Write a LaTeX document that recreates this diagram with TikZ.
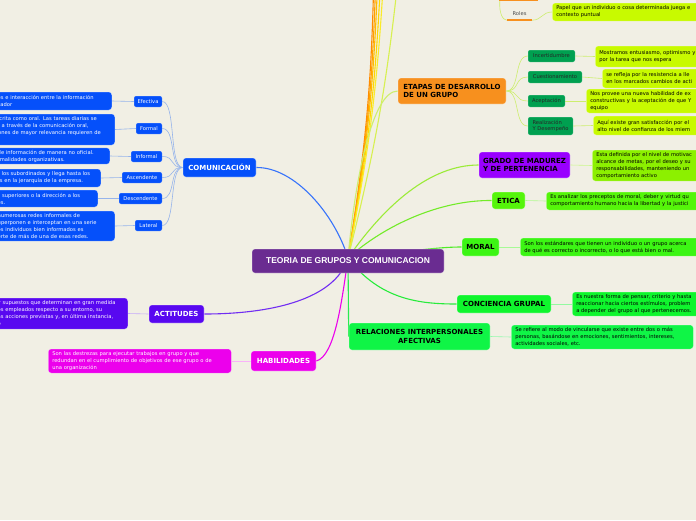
\documentclass[tikz,border=0pt]{standalone}
\usepackage{fontspec}
\setmainfont{DejaVu Sans}
\newfontfamily\arialfont{Liberation Sans}
\usepackage{tikz}
\usetikzlibrary{calc}
\definecolor{paper}{RGB}{241,239,228}
\definecolor{rootc}{RGB}{106,44,145}
\definecolor{comc}{RGB}{5,80,250}
\definecolor{comln}{RGB}{150,180,235}
\definecolor{actc}{RGB}{88,8,240}
\definecolor{habc}{RGB}{236,0,236}
\definecolor{etac}{RGB}{247,144,30}
\definecolor{etaln}{RGB}{205,238,110}
\definecolor{stagec}{RGB}{0,160,80}
\definecolor{limec}{RGB}{200,250,0}
\definecolor{gradc}{RGB}{153,0,255}
\definecolor{gradd}{RGB}{140,240,0}
\definecolor{etic}{RGB}{85,245,10}
\definecolor{morc}{RGB}{60,245,20}
\definecolor{conc}{RGB}{15,245,45}
\definecolor{relc}{RGB}{15,245,70}
\definecolor{graln}{RGB}{155,235,55}
\definecolor{etiln}{RGB}{115,235,40}
\definecolor{morln}{RGB}{80,235,40}
\definecolor{conln}{RGB}{40,235,60}
\definecolor{relln}{RGB}{40,235,80}
\pgfdeclarelayer{back}
\pgfdeclarelayer{bg}
\pgfsetlayers{back,bg,main}
\tikzset{
  topic/.style={rounded corners=3pt,draw=white,draw opacity=.35,line width=.6pt,
    font=\bfseries\fontsize{7}{8.6}\selectfont,inner sep=0pt,align=center},
  branch/.style={rounded corners=2pt,draw=white,draw opacity=.3,line width=.5pt,
    font=\fontsize{5.2}{6.2}\selectfont,inner sep=0pt,align=left},
  note/.style={rounded corners=3pt,draw=white,draw opacity=.35,line width=.5pt,
    font=\fontsize{5.2}{7}\selectfont,inner xsep=4pt,inner ysep=2pt,align=left},
  link/.style={line width=1.1pt},
  twig/.style={line width=.6pt},
}

\begin{document}
\begin{tikzpicture}[x=1pt,y=-1pt,font=\fontsize{5.2}{7}\selectfont]
\useasboundingbox (0,0) rectangle (696,520);
\clip (0,0) rectangle (696,520);
\begin{pgfonlayer}{back}
\fill[paper] (0,0) rectangle (696,520);
\end{pgfonlayer}

% centro
\node[topic,fill=rootc,text=white,font=\arialfont\bfseries\fontsize{8.5}{10}\selectfont,
  minimum width=192,minimum height=24] (root) at (348,261) {TEORIA DE GRUPOS Y COMUNICACION};
\coordinate (hub) at (348,258);

% comunicacion
\node[topic,fill=comc,text=white,minimum width=73,minimum height=19] (com) at (219.5,167.5) {COMUNICACIÓN};
\foreach \nm/\lbl/\x/\y/\w in {efe/Efectiva/148/101.5/28,frm/Formal/149/128.5/26,inf/Informal/146.5/156.5/31,
  asc/Ascendente/142/177.5/40,des/Descendente/140.5/198.5/43,lat/Lateral/148.5/225.5/27}
  \node[branch,fill=comc,text=white,minimum width=\w,minimum height=11,align=center] (\nm) at (\x,\y) {\lbl};
\node[note,fill=comc,text=white,anchor=east,text width=110,minimum height=18] (efe-n) at (112,101)
  {es e interacción entre la información\\zador};
\node[note,fill=comc,text=white,anchor=east,text width=114,minimum height=31] (frm-n) at (115,129.5)
  {scrita como oral. Las tareas diarias se\\e a través de la comunicación oral,\\iones de mayor relevancia requieren de\\\mbox{}};
\node[note,fill=comc,text=white,anchor=east,text width=108,minimum height=16] (inf-n) at (110,156)
  {de información de manera no oficial.\\rmalidades organizativas.};
\node[note,fill=comc,text=white,anchor=east,text width=100,minimum height=18] (asc-n) at (101,178)
  {o los subordinados y llega hasta los\\es en la jerarquía de la empresa.};
\node[note,fill=comc,text=white,anchor=east,text width=96,minimum height=17] (des-n) at (98,198.5)
  {s superiores o la dirección a los\\es.};
\node[note,fill=comc,text=white,anchor=east,text width=113,minimum height=30] (lat-n) at (115,226)
  { numerosas redes informales de\\uperponen e interceptan en una serie\\os individuos bien informados es\\erte de más de una de esas redes.};

% actitudes y habilidades
\node[topic,fill=actc,text=white,minimum width=55,minimum height=18] (act) at (176.5,314) {ACTITUDES};
\node[note,fill=actc,text=white,anchor=east,text width=126,minimum height=31] (act-n) at (128,313.5)
  {y supuestos que determinan en gran medida\\os empleados respecto a su entorno, su\\as acciones previstas y, en última instancia,\\o};
\node[topic,fill=habc,text=white,minimum width=65,minimum height=20] (hab) at (283.5,361) {HABILIDADES};
\node[note,fill=habc,text=white,anchor=west,text width=175,minimum height=24] (hab-n) at (48,361)
  {Son las destrezas para ejecutar trabajos en grupo y que\\redundan en el cumplimiento de objetivos de ese grupo o de\\una organización};

% etapas
\node[topic,fill=etac,text=black,align=left,minimum width=108,minimum height=26] (eta) at (452,91)
  {ETAPAS DE DESARROLLO\\DE UN GRUPO};
\foreach \nm/\lbl/\x/\y/\w/\h in {inc/Incertidumbre/551.5/56/47/12,cue/Cuestionamiento/555/77/54/12,
  ace/Aceptación/546.5/101/37/12,rea/{Realización\\Y Desempeño}/550.5/126/45/18}
  \node[branch,fill=stagec,text=black!85,minimum width=\w,minimum height=\h] (\nm) at (\x,\y) {\lbl};
\node[note,fill=limec,anchor=west,text width=150,minimum height=21] (inc-n) at (595,56.5)
  {Mostramos entusiasmo, optimismo y\\por la tarea que nos espera};
\node[note,fill=limec,anchor=west,text width=150,minimum height=19] (cue-n) at (602,78.5)
  {se refleja por la resistencia a lle\\en los marcados cambios de acti};
\node[note,fill=limec,anchor=west,text width=150,minimum height=24] (ace-n) at (586,101)
  {Nos provee una nueva habilidad de ex\\constructivas y la aceptación de que Y\\equipo};
\node[note,fill=limec,anchor=west,text width=150,minimum height=19] (rea-n) at (593,125.5)
  {Aquí existe gran satisfacción por el\\alto nivel de confianza de los miem};

% roles
\node[fill=etac,minimum width=39,minimum height=22,inner sep=0pt] (par) at (518.5,-10) {};
\node[inner sep=0pt,minimum width=25,minimum height=12,text=black!70] (rol) at (519.5,14) {Roles};
\draw[etac,line width=2pt] (rol.south west) -- (rol.south east);
\node[note,fill=limec,anchor=west,text width=160,minimum height=18] (rol-n) at (552,12)
  {Papel que un individuo o cosa determinada juega e\\contexto puntual};

% madurez, etica, moral
\node[topic,fill=gradc,text=black,align=left,minimum width=91,minimum height=26] (gra) at (524.5,165)
  {GRADO DE MADUREZ\\Y DE PERTENENCIA};
\node[note,fill=gradd,anchor=west,text width=150,minimum height=31] (gra-n) at (592,165.5)
  {Esta definida por el nivel de motivac\\alcance de metas, por el deseo y su\\responsabilidades, manteniendo un\\comportamiento activo};
\node[topic,fill=etic,text=black,minimum width=33,minimum height=17] (eti) at (508.5,200.5) {ETICA};
\node[note,fill=etic,anchor=west,text width=170,minimum height=18] (eti-n) at (546,201)
  {Es analizar los preceptos de moral, deber y virtud qu\\comportamiento humano hacia la libertad y la justici};
\node[topic,fill=morc,text=black,minimum width=37,minimum height=18] (mor) at (480.5,247) {MORAL};
\node[note,fill=morc,anchor=west,text width=190,minimum height=18] (mor-n) at (520,247)
  {Son los estándares que tienen un individuo o un grupo acerca\\de qué es correcto o incorrecto, o lo que está bien o mal.};

% conciencia y relaciones
\node[topic,fill=conc,text=black,minimum width=94,minimum height=18] (con) at (504,304) {CONCIENCIA GRUPAL};
\node[note,fill=conc,anchor=west,text width=150,minimum height=24] (con-n) at (572,304)
  {Es nuestra forma de pensar, criterio y hasta\\reaccionar hacia ciertos estímulos, problem\\a depender del grupo al que pertenecemos.};
\node[topic,fill=relc,text=black,minimum width=141,minimum height=27] (rel) at (419.5,336.5)
  {RELACIONES INTERPERSONALES\\AFECTIVAS};
\node[note,fill=relc,anchor=west,text width=174,minimum height=24] (rel-n) at (511,337)
  {Se refiere al modo de vincularse que existe entre dos o más\\personas, basándose en emociones, sentimientos, intereses,\\actividades sociales, etc.};

\coordinate (f1) at (374,-30);
\coordinate (f2) at (376,-30);
\coordinate (f3) at (378,-30);
\coordinate (f4) at (381,-30);
\coordinate (f5) at (384,-30);
\coordinate (f6) at (399,-30);

\begin{pgfonlayer}{bg}
\foreach \f/\c in {f1/{255,140,0},f2/{255,160,0},f3/{255,185,0},f4/{255,215,0},f5/{250,235,40},f6/{215,240,80}}{
  \definecolor{fanc}{RGB}{\c}
  \draw[link,fanc] (hub) to[bend right=4] (\f);
}
\draw[link,comc!80] (hub) .. controls (335,215) and (295,167) .. (com.east);
\draw[link,actc!85] (hub) .. controls (335,300) and (270,314) .. (act.east);
\draw[link,habc] (hub) .. controls (342,300) and (335,356) .. (hab.east);
\draw[link,etaln] (hub) .. controls (355,180) and (372,91) .. (eta.west);
\draw[link,graln] (hub) .. controls (385,205) and (430,165) .. (gra.west);
\draw[link,etiln] (hub) .. controls (385,225) and (440,200) .. (eti.west);
\draw[link,morln] (hub) .. controls (420,250) and (440,247) .. (mor.west);
\draw[link,conln] (hub) .. controls (380,300) and (420,304) .. (con.west);
\draw[link,relln] (hub) -- (rel.west);
\foreach \nm in {efe,frm,inf,asc,des,lat}{
  \draw[twig,comln] (com.west) .. controls +(-14,0) and +(14,0) .. (\nm.east);
  \draw[twig,comln] (\nm.west) -- (\nm-n.east);
}
\foreach \nm in {inc,cue,ace,rea}{
  \draw[twig,etaln] (eta.east) .. controls +(14,0) and +(-14,0) .. (\nm.west);
  \draw[twig,etaln] (\nm.east) -- (\nm-n.west);
}
\draw[twig,etaln] ($(par.south west)+(1,0)$) .. controls (499,14) and (503,20) .. (rol.south west);
\draw[twig,etaln] (rol.south east) .. controls (542,20) and (542,12) .. (rol-n.west);
\draw[twig,actc!35] (act.west) -- (act-n.east);
\draw[twig,habc!30] (hab.west) -- (hab-n.east);
\draw[twig,gradd!45] (gra.east) -- (gra-n.west);
\draw[twig,etic!45] (eti.east) -- (eti-n.west);
\draw[twig,morc!45] (mor.east) -- (mor-n.west);
\draw[twig,conc!45] (con.east) -- (con-n.west);
\draw[twig,relc!45] (rel.east) -- (rel-n.west);
\end{pgfonlayer}
\end{tikzpicture}
\end{document}
